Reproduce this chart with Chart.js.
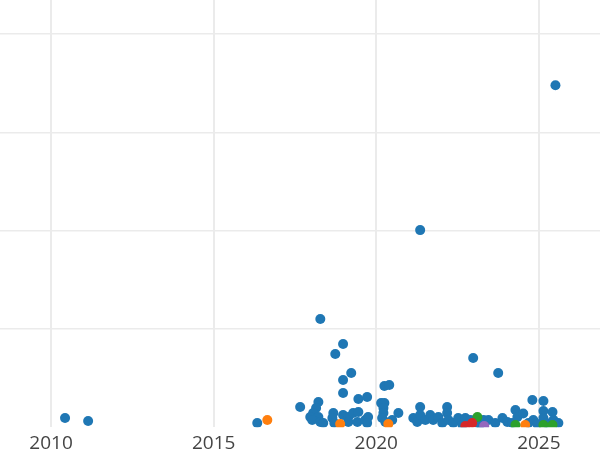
<!DOCTYPE html>
<html>
<head>
<meta charset="utf-8">
<script src="https://cdn.jsdelivr.net/npm/chart.js@4/dist/chart.umd.min.js"></script>
<style>
  html, body { margin: 0; padding: 0; background: #fff; }
  #chart { display: block; }
</style>
</head>
<body>
<canvas id="chart" width="600" height="450"></canvas>
<script>
// year ticks on x (y grid every 100)
const xTicks = [2010, 2015, 2020, 2025];
const yTicks = [100, 200, 300, 400];

const blueX = [
  2010.43, 2011.14, 2016.34, 2017.66, 2018.28, 2018.74, 2018.98, 2019.23, 2018.98, 2018.98,
  2019.45, 2019.72, 2020.25, 2020.40, 2020.15, 2020.25, 2021.35, 2025.51, 2022.98, 2023.75,
  2024.80, 2025.14,
  2018.22, 2018.15, 2018.06, 2017.97, 2018.22, 2018.03, 2018.28, 2018.37, 2018.68, 2018.65,
  2018.71, 2018.98, 2019.14, 2019.29, 2019.45, 2019.14, 2019.42, 2019.66, 2019.75, 2019.72,
  2020.22, 2020.22, 2020.18, 2020.28, 2020.49, 2020.68, 2021.35, 2021.14, 2021.26, 2021.35,
  2021.51, 2021.66, 2021.75, 2021.91, 2022.03, 2022.18, 2022.18, 2022.22, 2022.37, 2022.52,
  2022.65, 2022.74, 2022.90, 2023.11, 2023.20, 2023.30, 2023.45, 2023.66, 2023.88, 2024.03,
  2024.18, 2024.28, 2024.34, 2024.52, 2024.68, 2024.83, 2024.95, 2025.14, 2025.14, 2025.23,
  2025.42, 2025.45, 2025.60
];
const blueY = [
  9.5, 6.4, 4.4, 20.6, 110.2, 74.6, 84.8, 55.2, 48.1, 34.9,
  28.8, 30.8, 42.0, 43.0, 24.7, 24.7, 200.6, 348.0, 70.5, 55.2,
  27.8, 26.8,
  25.7, 19.6, 14.5, 10.5, 10.5, 7.4, 5.4, 4.4, 14.5, 9.5,
  4.4, 12.5, 10.5, 14.5, 15.6, 5.4, 5.4, 7.4, 10.5, 4.4,
  19.6, 14.5, 9.5, 5.4, 7.4, 14.5, 20.6, 9.5, 5.4, 12.5,
  7.4, 12.5, 7.4, 10.5, 4.4, 20.6, 14.5, 7.4, 4.4, 9.5,
  2.3, 9.5, 7.4, 4.4, 3.4, 7.4, 7.4, 4.4, 9.5, 5.4,
  4.4, 17.6, 10.5, 14.0, 4.4, 7.4, 3.4, 16.6, 9.5, 4.4,
  15.6, 7.4, 4.4
];

const orangeX = [2016.65, 2018.89, 2020.37, 2024.58];
const orangeY = [7.4, 3.4, 3.4, 2.3];

const greenX = [2023.11, 2024.28, 2025.14, 2025.42];
const greenY = [10.5, 2.3, 2.3, 2.3];

const redX = [2022.74, 2022.95];
const redY = [1.3, 4.4];

const purpleX = [2023.32];
const purpleY = [1.3];

function pts(xs, ys) {
  return xs.map((x, i) => ({ x: x, y: ys[i] }));
}

function series(xs, ys, color, order) {
  return {
    data: pts(xs, ys),
    backgroundColor: color,
    borderWidth: 0,
    pointRadius: 5,
    pointHoverRadius: 5,
    clip: 0,
    order: order
  };
}

new Chart(document.getElementById('chart'), {
  type: 'scatter',
  data: {
    datasets: [
      series(blueX, blueY, '#1f77b4', 5),
      series(orangeX, orangeY, '#ff7f0e', 4),
      series(greenX, greenY, '#2ca02c', 3),
      series(redX, redY, '#d62728', 2),
      series(purpleX, purpleY, '#9467bd', 1)
    ]
  },
  options: {
    responsive: false,
    animation: false,
    layout: { padding: 0, autoPadding: false },
    plugins: { legend: { display: false }, tooltip: { enabled: false } },
    scales: {
      x: {
        type: 'linear',
        min: 2008.43,
        max: 2026.88,
        afterBuildTicks: axis => { axis.ticks = xTicks.map(v => ({ value: v })); },
        afterFit: axis => { axis.height = 22.7; },
        ticks: {
          color: '#444',
          font: { family: 'Open Sans', size: 19, lineHeight: 1.0 },
          padding: 6.5,
          callback: v => String(v)
        },
        grid: { color: '#ebebeb', lineWidth: 2, drawTicks: false },
        border: { display: false }
      },
      y: {
        min: 0,
        max: 434.7,
        afterBuildTicks: axis => { axis.ticks = yTicks.map(v => ({ value: v })); },
        ticks: { display: false },
        grid: { color: '#ebebeb', lineWidth: 1.5, drawTicks: false },
        border: { display: false }
      }
    }
  }
});
</script>
</body>
</html>
